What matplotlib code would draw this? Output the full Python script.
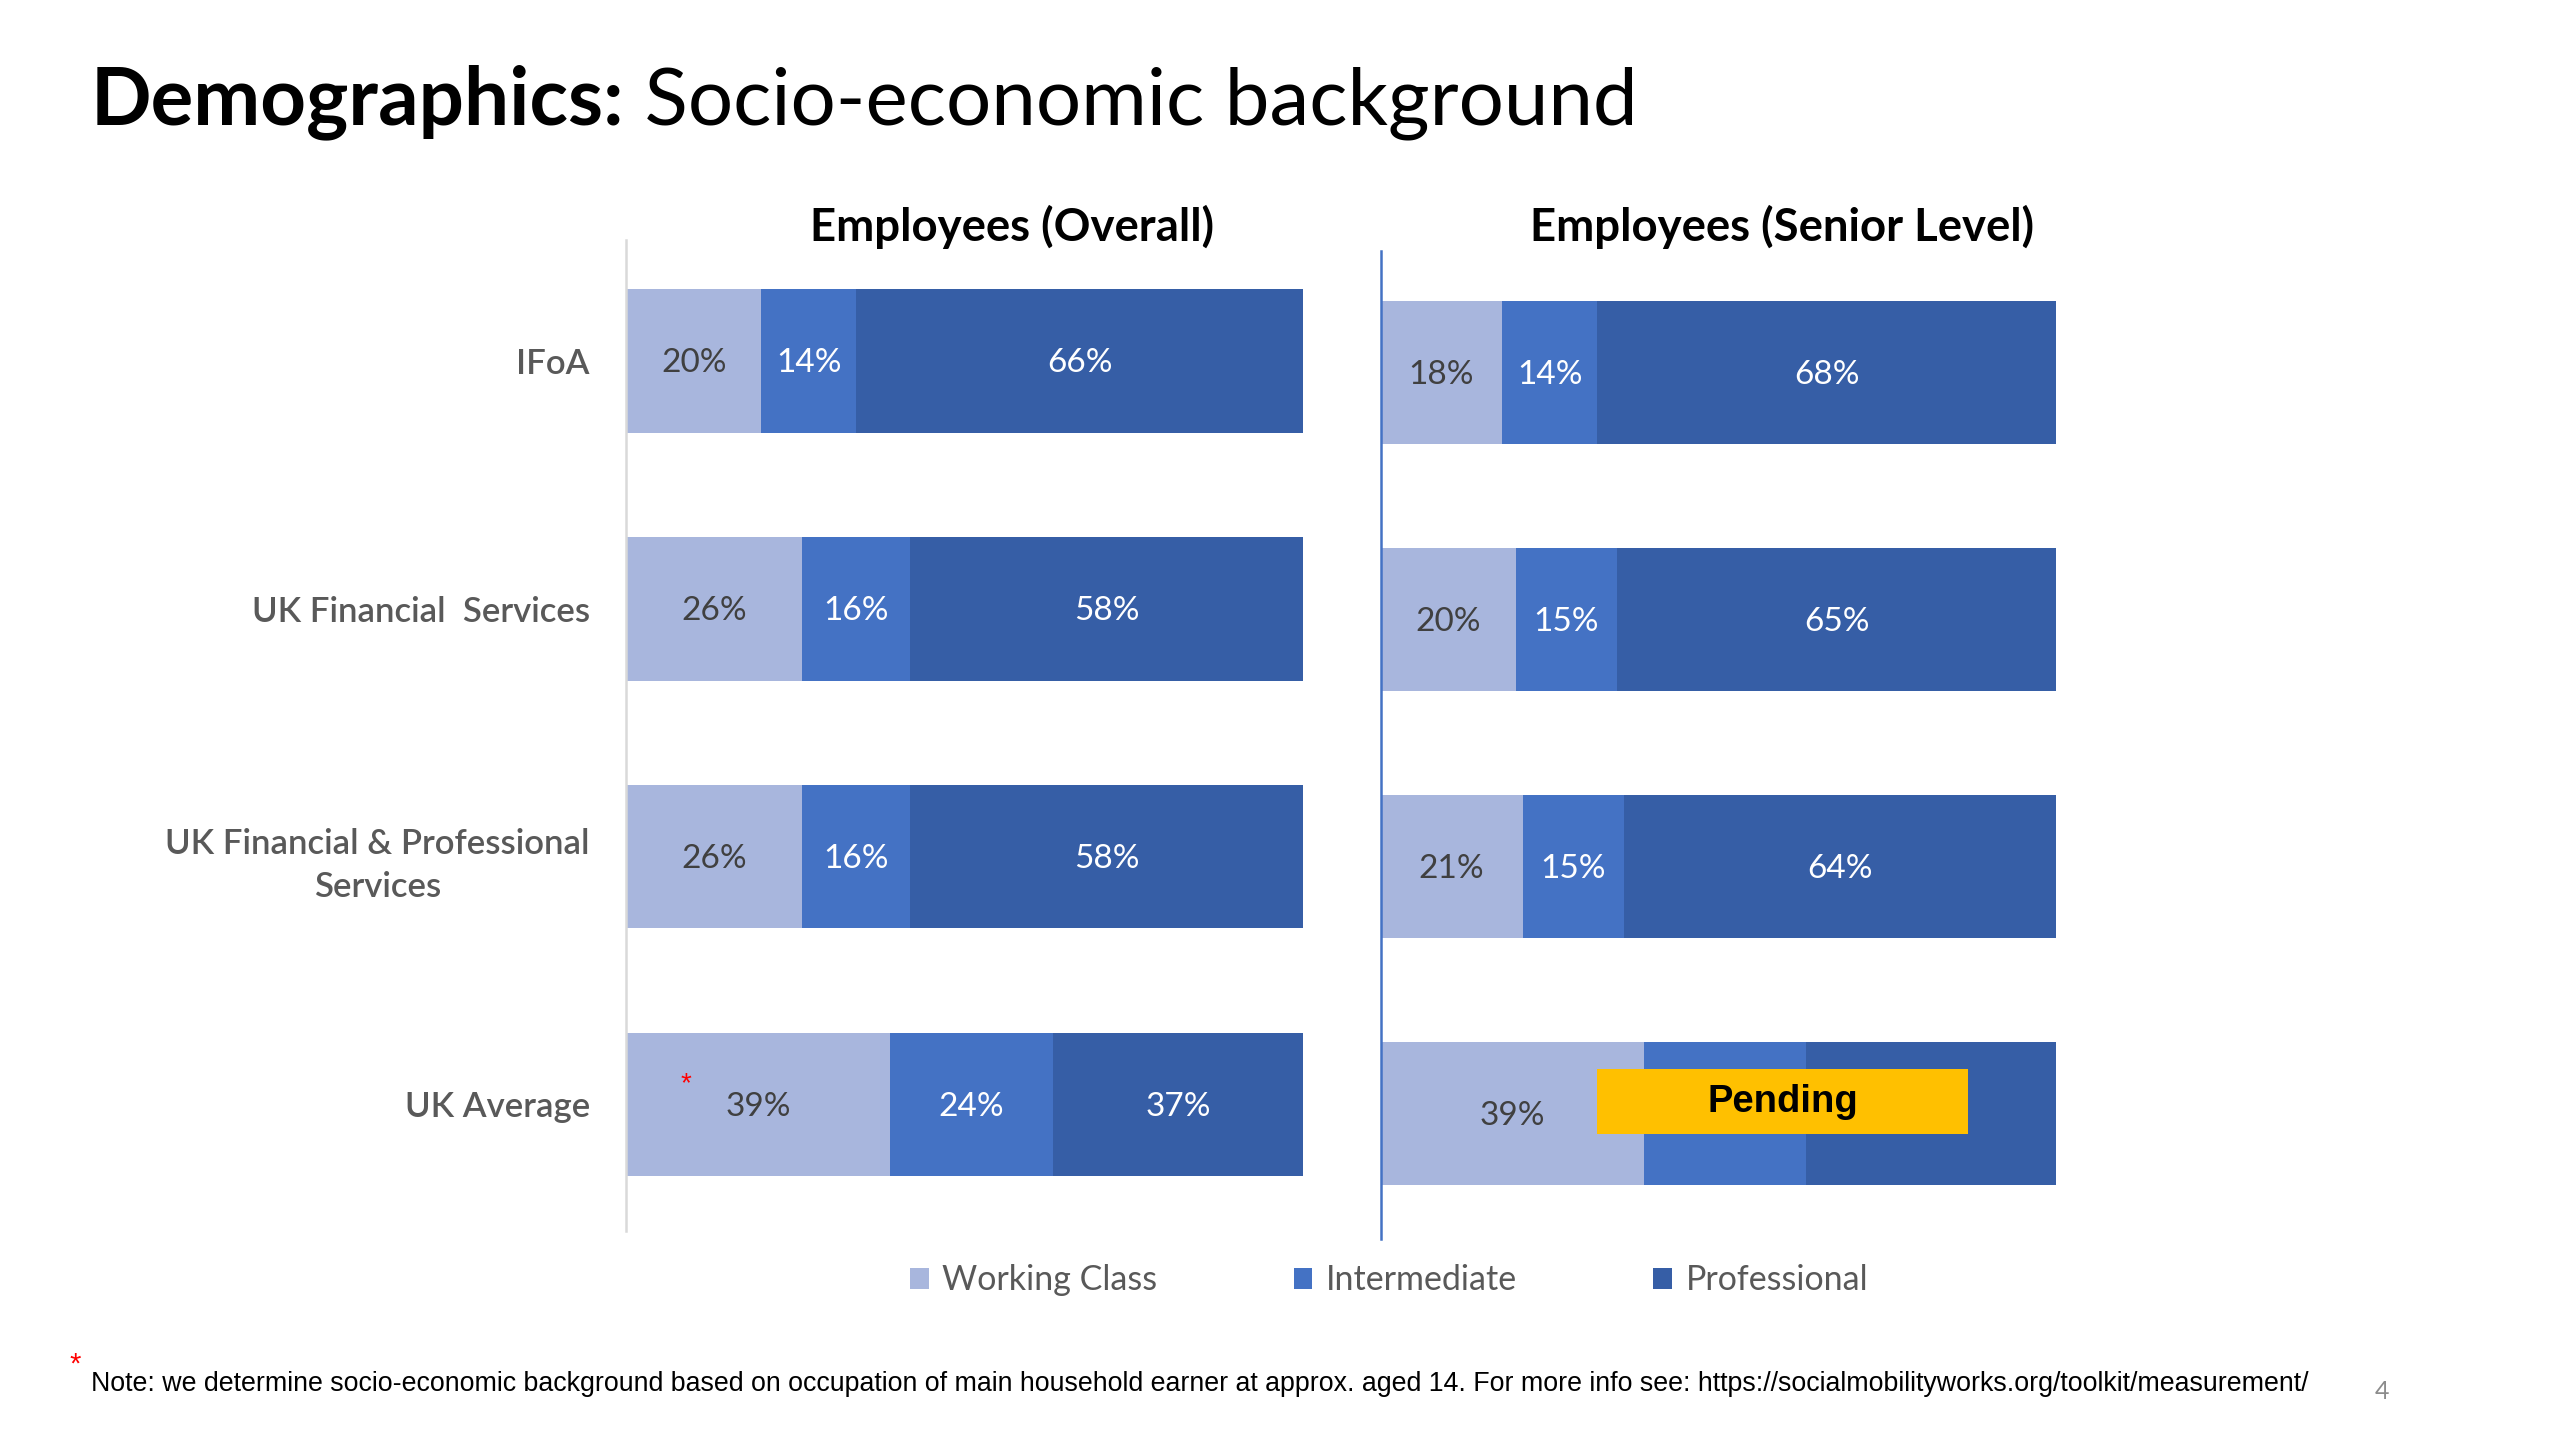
import numpy as np
import matplotlib
matplotlib.use('Agg')
from matplotlib import pyplot as plt
from matplotlib.patches import Patch, Rectangle
from matplotlib.text import Annotation

# data
categories = ['IFoA', 'UK Financial  Services', 'UK Financial & Professional\nServices', 'UK Average']
series_names = ['Working Class', 'Intermediate', 'Professional']
overall_working = [20, 26, 26, 39]
overall_inter = [14, 16, 16, 24]
overall_prof = [66, 58, 58, 37]
senior_working = [18, 20, 21, 39]
senior_inter = [14, 15, 15, 24]
senior_prof = [68, 65, 64, 37]
pending_row = 3          # senior UK Average values not yet available
pending_span = (32, 87)  # extent of the "Pending" sticker in % units

colors = ['#A8B6DD', '#4472C4', '#365EA6']
label_colors = ['#404040', 'white', 'white']
gray = '#595959'

plt.rcParams['font.family'] = ['Lato', 'DejaVu Sans']

fig = plt.figure(figsize=(25.6, 14.4), dpi=100)

W, H = 1550.0, 871.6
def fx(x):
    return x / W
def fy(y):
    return 1 - y / H

ax1 = fig.add_axes([fx(379), fy(745), fx(789) - fx(379), fy(145) - fy(745)])
ax2 = fig.add_axes([fx(836), fy(750), fx(1245) - fx(836), fy(152) - fy(750)])

def draw(ax, parts, spine_color, show_labels, hide_row=None):
    y = np.arange(len(categories))
    left = np.zeros(len(categories))
    for k, vals in enumerate(parts):
        vals = np.array(vals, dtype=float)
        ax.barh(y, vals, left=left, height=0.58, color=colors[k], edgecolor='none')
        for i, v in enumerate(vals):
            if hide_row is not None and i == hide_row and k > 0:
                continue
            ax.text(left[i] + v / 2, y[i] + 0.01, f'{int(v)}%', ha='center', va='center',
                    fontsize=24, color=label_colors[k])
        left += vals
    ax.set_xlim(0, 100)
    ax.set_ylim(3.51, -0.49)
    ax.set_xticks([])
    for s in ['top', 'right', 'bottom']:
        ax.spines[s].set_visible(False)
    ax.spines['left'].set_color(spine_color)
    ax.spines['left'].set_linewidth(1.8)
    ax.set_yticks(y)
    if show_labels:
        ax.set_yticklabels(categories, fontsize=25, color=gray, fontweight='semibold',
                           multialignment='center', linespacing=1.45)
        ax.tick_params(axis='y', length=0, pad=26)
    else:
        ax.set_yticklabels([])
        ax.tick_params(axis='y', length=0)
    ax.patch.set_alpha(0)

draw(ax1, [overall_working, overall_inter, overall_prof], '#D9D9D9', True)
draw(ax2, [senior_working, senior_inter, senior_prof], '#4472C4', False, hide_row=pending_row)

# pending sticker
ax2.add_patch(Rectangle((pending_span[0], pending_row - 0.177), pending_span[1] - pending_span[0], 0.26,
                        facecolor='#FFC000', edgecolor='none', zorder=5))
ax2.text(sum(pending_span) / 2, pending_row - 0.047, 'Pending', ha='center', va='center',
         fontsize=27.5, fontweight='bold', family='Liberation Sans', color='black', zorder=6)

# red asterisk on the UK average bar
ax1.text(8.8, 2.92, '*', color='red', fontsize=20, ha='center', va='center', family='Liberation Sans')

# titles
t1 = fig.text(fx(55), fy(75), 'Demographics:', fontsize=57.5, fontweight='bold', color='black',
              va='baseline', ha='left')
fig.add_artist(Annotation(' Socio-economic background', xy=(1, 0), xycoords=t1,
                          va='bottom', ha='left', fontsize=57.5, color='black'))
fig.text(fx(613), fy(146), 'Employees (Overall)', fontsize=32.8, fontweight='bold', ha='center', va='baseline')
fig.text(fx(1079), fy(146), 'Employees (Senior Level)', fontsize=32.8, fontweight='bold', ha='center', va='baseline')

# legend
handles = [Patch(facecolor=c, edgecolor='none') for c in colors]
fig.legend(handles, series_names, loc='center', bbox_to_anchor=(fx(841), fy(775)), ncol=3, frameon=False,
           fontsize=24.5, labelcolor=gray, handlelength=0.55, handleheight=0.55, handletextpad=0.4,
           columnspacing=4.0)

# footnote
fig.text(fx(42), fy(826), '*', color='red', fontsize=21, family='Liberation Sans', ha='left', va='center')
fig.text(fx(55), fy(842), 'Note: we determine socio-economic background based on occupation of main household earner '
         'at approx. aged 14. For more info see: https://socialmobilityworks.org/toolkit/measurement/',
         fontsize=19.3, family='Liberation Sans', color='black', ha='left', va='baseline')
fig.text(fx(1442), fy(847), '4', fontsize=18, color='#8C8C8C', ha='center', va='baseline')

plt.savefig('out.png', dpi=100)
